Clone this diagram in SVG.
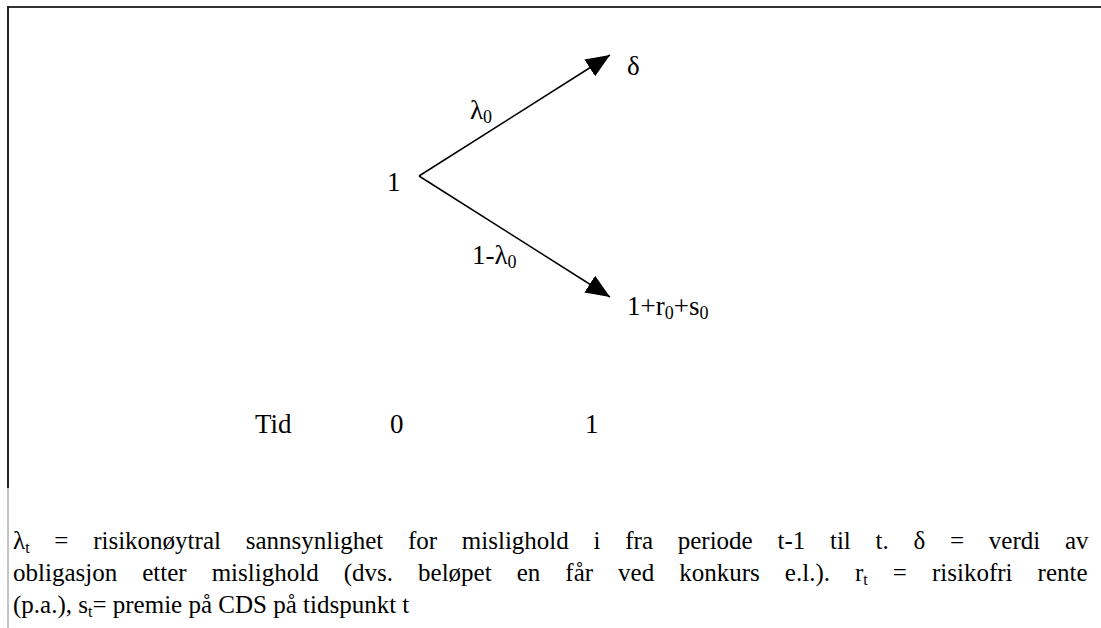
<svg xmlns="http://www.w3.org/2000/svg" width="1101" height="628" viewBox="0 0 1101 628">
<defs>
<style>
text{font-family:'Liberation Serif','Times New Roman',Times,serif;font-size:27px;fill:#000}
.sub{font-size:18px}
.cap{font-size:25px}
.cap .sub{font-size:16px}
.edge{stroke:#000;stroke-width:1.5;fill:none}
</style>
<marker id="ah" viewBox="0 0 24 20" refX="24" refY="10" markerWidth="24" markerHeight="20" markerUnits="userSpaceOnUse" orient="auto">
<path d="M0,0 L24,10 L0,20 Z" fill="#000"/>
</marker>
</defs>
<rect width="1101" height="628" fill="#fff"/>
<g id="frame">
<line x1="8" y1="7" x2="1101" y2="7" stroke="#333" stroke-width="2"/>
<line x1="8" y1="6" x2="8" y2="488" stroke="#222" stroke-width="2"/>
<line x1="8" y1="488" x2="8" y2="628" stroke="#888" stroke-width="1"/>
</g>
<g id="connectors">
<line class="edge" x1="419" y1="176" x2="610" y2="55" marker-end="url(#ah)"/>
<line class="edge" x1="419" y1="176" x2="610" y2="297" marker-end="url(#ah)"/>
</g>
<g id="node-start"><text x="387" y="191">1</text></g>
<g id="node-default"><text x="627" y="75">δ</text></g>
<g id="node-survive"><text x="627" y="315">1+r<tspan class="sub" dy="4">0</tspan><tspan dy="-4">+s</tspan><tspan class="sub" dy="4">0</tspan></text></g>
<g id="label-up"><text x="470" y="119">λ<tspan class="sub" dy="4">0</tspan></text></g>
<g id="label-down"><text x="472" y="264">1-λ<tspan class="sub" dy="4">0</tspan></text></g>
<g id="axis">
<text x="255" y="433">Tid</text>
<text x="390" y="433">0</text>
<text x="585" y="433">1</text>
</g>
<g id="caption">
<text class="cap" x="13" y="549" word-spacing="18.5">λ<tspan class="sub" dy="4">t</tspan><tspan dy="-4"> = risikonøytral sannsynlighet for mislighold i fra periode t-1 til t. δ = verdi av</tspan></text>
<text class="cap" x="13" y="581" word-spacing="18.8">obligasjon etter mislighold (dvs. beløpet en får ved konkurs e.l.). r<tspan class="sub" dy="4">t</tspan><tspan dy="-4"> = risikofri rente</tspan></text>
<text class="cap" x="13" y="613">(p.a.), s<tspan class="sub" dy="4">t</tspan><tspan dy="-4">= premie på CDS på tidspunkt t</tspan></text>
</g>
</svg>
